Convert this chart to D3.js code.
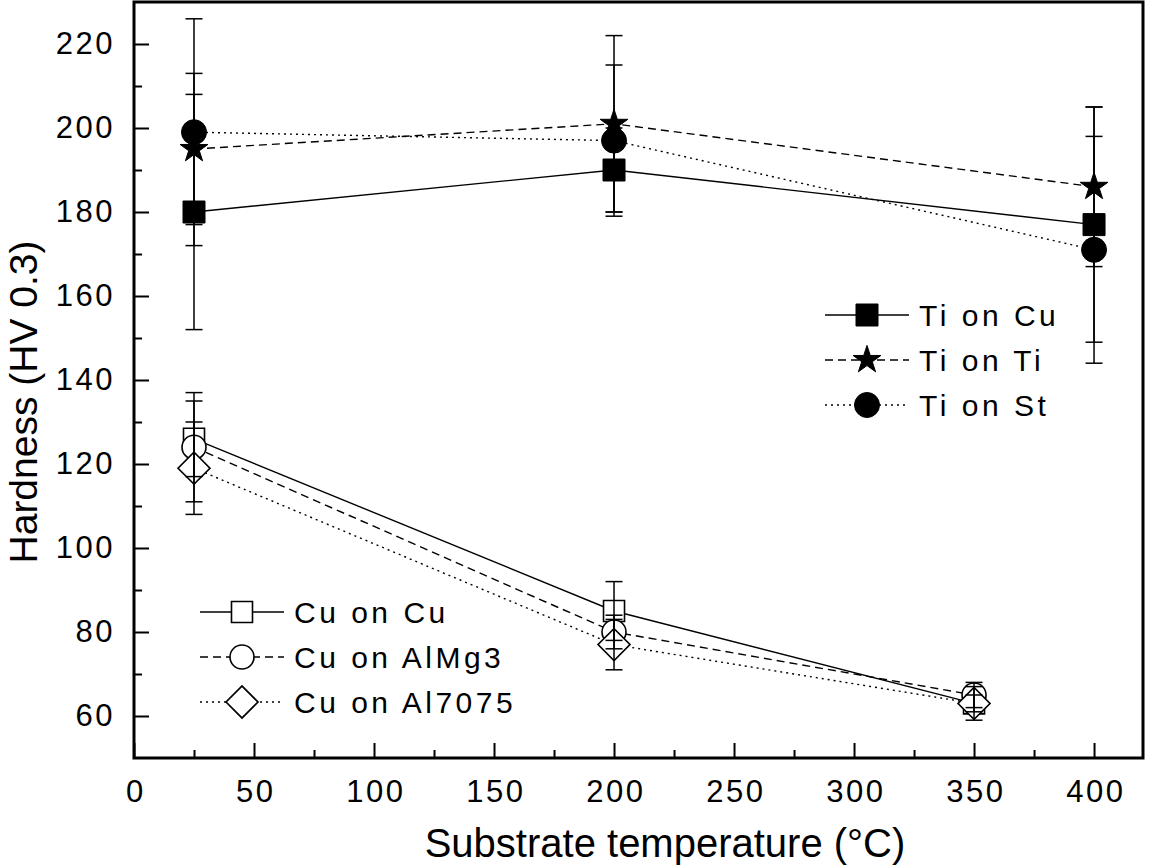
<!DOCTYPE html>
<html><head><meta charset="utf-8">
<script src="https://cdn.jsdelivr.net/npm/d3@7"></script>
<style>body{margin:0;background:#fff} text{font-family:"Liberation Sans",Arial,Helvetica,sans-serif;fill:#000}</style>
</head><body><svg id="c" width="1157" height="866"></svg>
<script>
// ---- data ----
const tiTemps = [25, 200, 400];
const cuTemps = [25, 200, 350];
const tiOnCu = [180, 190, 177];   const tiOnCuErr = [28, 10, 28];
const tiOnTi = [195, 201, 186];   const tiOnTiErr = [18, 21, 19];
const tiOnSt = [199, 197, 171];   const tiOnStErr = [27, 18, 27];
const cuOnCu = [126, 85, 63];     const cuOnCuErr = [9, 7, 2];
const cuOnAlMg3 = [124, 80, 65];  const cuOnAlMg3Err = [13, 4, 3];
const cuOnAl7075 = [119, 77, 63]; const cuOnAl7075Err = [11, 6, 4];
const xTickValues = [0, 50, 100, 150, 200, 250, 300, 350, 400];
const xMinorTicks = [25, 75, 125, 175, 225, 275, 325, 375];
const yTickValues = [60, 80, 100, 120, 140, 160, 180, 200, 220];
const yMinorTicks = [70, 90, 110, 130, 150, 170, 190, 210];
const xTitle = "Substrate temperature (°C)";
const yTitle = "Hardness (HV 0.3)";

// ---- layout ----
const L = 134, R = 1143, T = 2, B = 758;
const svg = d3.select("#c");
svg.append("rect").attr("width",1157).attr("height",866).attr("fill","#fff");
const x = d3.scaleLinear().domain([0, 420.4]).range([L, R]);
const y = d3.scaleLinear().domain([50, 230]).range([B, T]);

const series = [
  {name:"Ti on Cu", t:tiTemps, v:tiOnCu, e:tiOnCuErr, sym:"square", filled:true, dash:null},
  {name:"Ti on Ti", t:tiTemps, v:tiOnTi, e:tiOnTiErr, sym:"star", filled:true, dash:"8,5"},
  {name:"Ti on St", t:tiTemps, v:tiOnSt, e:tiOnStErr, sym:"circle", filled:true, dash:"2,4"},
  {name:"Cu on Cu", t:cuTemps, v:cuOnCu, e:cuOnCuErr, sym:"square", filled:false, dash:null},
  {name:"Cu on AlMg3", t:cuTemps, v:cuOnAlMg3, e:cuOnAlMg3Err, sym:"circle", filled:false, dash:"8,5"},
  {name:"Cu on Al7075", t:cuTemps, v:cuOnAl7075, e:cuOnAl7075Err, sym:"diamond", filled:false, dash:"2,4"}
];

function symPath(s, filled){
  if (s==="star") return {d:d3.symbol(d3.symbolStar, 240)(), rot:0};
  if (s==="circle") return {d:d3.symbol(d3.symbolCircle, filled?491:452)(), rot:0};
  if (s==="square") return {d:d3.symbol(d3.symbolSquare, filled?484:441)(), rot:0};
  if (s==="diamond") return {d:d3.symbol(d3.symbolSquare, 512)(), rot:45};
}
function drawMarker(g, s, cx, cy){
  const p = symPath(s.sym, s.filled);
  g.append("path").attr("d", p.d)
    .attr("transform", `translate(${cx},${cy}) rotate(${p.rot})`)
    .attr("fill", s.filled ? "#000" : "#fff")
    .attr("stroke", "#000").attr("stroke-width", s.filled?1:1.6);
}

// axes
const xAxis = d3.axisBottom(x).tickValues(xTickValues).tickSize(-15).tickPadding(22).tickFormat(d3.format("d"));
const yAxis = d3.axisLeft(y).tickValues(yTickValues).tickSize(-15).tickPadding(19).tickFormat(d3.format("d"));
const gx = svg.append("g").attr("transform",`translate(0,${B})`).call(xAxis);
const gy = svg.append("g").attr("transform",`translate(${L},0)`).call(yAxis);
svg.append("g").attr("transform",`translate(0,${B})`).call(d3.axisBottom(x).tickValues(xMinorTicks).tickSize(-8).tickFormat(""));
svg.append("g").attr("transform",`translate(${L},0)`).call(d3.axisLeft(y).tickValues(yMinorTicks).tickSize(-8).tickFormat(""));
svg.selectAll(".domain").remove();
svg.selectAll(".tick line").attr("stroke","#000").attr("stroke-width",2);
svg.selectAll(".tick text").style("font-size","31px").style("letter-spacing","2.5px").attr("fill","#000");
gx.selectAll("text").attr("dx","1.25");

// frame
svg.append("rect").attr("x",L).attr("y",T).attr("width",R-L).attr("height",B-T)
  .attr("fill","none").attr("stroke","#000").attr("stroke-width",3);

// titles
svg.append("text").attr("x",665).attr("y",857)
  .attr("text-anchor","middle").style("font-size","40px").text(xTitle);
svg.append("text").attr("transform",`translate(37,402) rotate(-90)`)
  .attr("text-anchor","middle").style("font-size","39px").text(yTitle);

// lines
const plot = svg.append("g");
series.forEach(s=>{
  const line = d3.line().x((d,i)=>x(s.t[i])).y(d=>y(d));
  plot.append("path").attr("d", line(s.v)).attr("fill","none").attr("stroke","#000")
    .attr("stroke-width",1.4).attr("stroke-dasharray", s.dash);
});
// markers
series.forEach(s=>{
  s.v.forEach((v,i)=> drawMarker(plot, s, x(s.t[i]), y(v)));
});
// error bars
series.forEach(s=>{
  s.v.forEach((v,i)=>{
    const cx = x(s.t[i]), y1 = y(v + s.e[i]), y2 = y(v - s.e[i]);
    plot.append("line").attr("x1",cx).attr("x2",cx).attr("y1",y1).attr("y2",y2).attr("stroke","#000").attr("stroke-width",1.5);
    [y1,y2].forEach(yy=> plot.append("line").attr("x1",cx-8.5).attr("x2",cx+8.5).attr("y1",yy).attr("y2",yy).attr("stroke","#000").attr("stroke-width",1.5));
  });
});

// legends
function legend(items, x0, y0, dy){
  items.forEach((s,k)=>{
    const yy = y0 + k*dy;
    svg.append("line").attr("x1",x0).attr("x2",x0+84).attr("y1",yy).attr("y2",yy)
      .attr("stroke","#000").attr("stroke-width",1.4).attr("stroke-dasharray", s.dash);
    drawMarker(svg, s, x0+42, yy);
    svg.append("text").attr("x",x0+94).attr("y",yy+11).style("font-size","30px")
      .style("letter-spacing","3.5px").text(s.name);
  });
}
legend(series.slice(0,3), 825, 315, 45);
legend(series.slice(3,6), 200, 612, 45);
</script></body></html>
